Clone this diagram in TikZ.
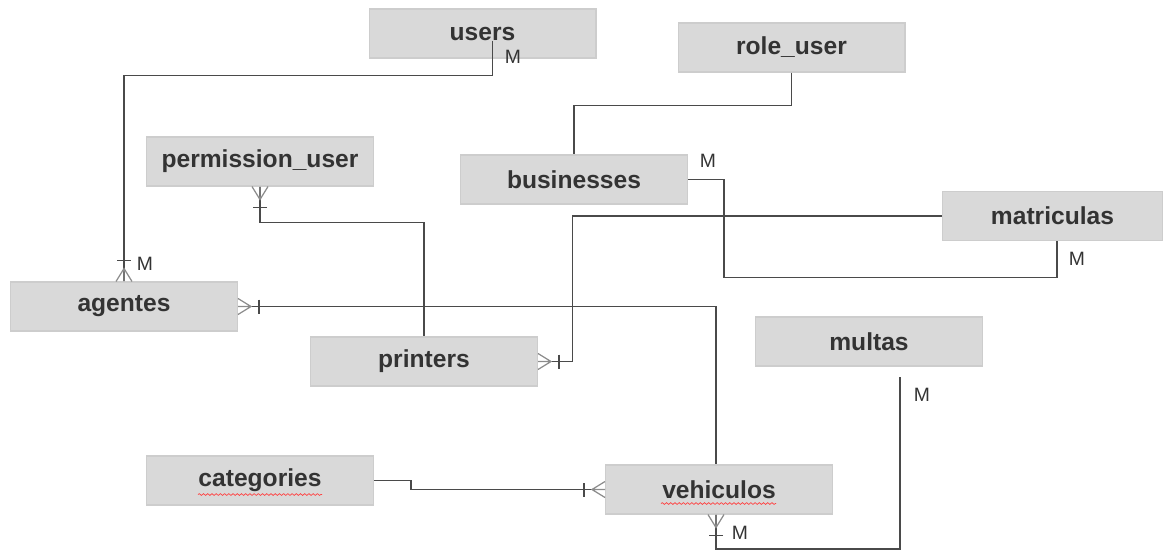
\documentclass[tikz,border=0pt]{standalone}
\usepackage{fontspec}
\setmainfont{Liberation Sans}
\usetikzlibrary{calc,decorations.pathmorphing}
\definecolor{boxgray}{HTML}{D9D9D9}
\definecolor{boxedge}{HTML}{CDCDCD}
\definecolor{inkgray}{HTML}{333333}
\definecolor{linegray}{HTML}{4A4A4A}
\definecolor{footgray}{HTML}{8C8C8C}
\tikzset{ %inner sep = 0mm,
  {entity/.style} ={rectangle, fill=boxgray, draw=boxedge, line width=0.6pt,
                    minimum width=4.54cm, minimum height=0.98cm, inner sep=0,
                    text=inkgray, font=\fontsize{14}{16}\selectfont\bfseries},
  {card/.style} ={text=inkgray, inner sep=0, font=\fontsize{11}{13}\selectfont},
  {rel/.style} ={draw=linegray, line width=1.1pt},
  {foot/.style} ={draw=footgray, line width=0.7pt},
  {footbar/.style} ={draw=linegray, line width=0.8pt},
  {squiggle/.style} ={draw=red!75, line width=0.4pt,
                      decorate, decoration={snake, amplitude=0.5pt, segment length=2.4pt}},
}
% crow's foot at #1, pointing away from the box at angle #2
\newcommand{\crowfoot}[2]{%
  \begin{scope}[shift={(#1)}, rotate=#2]
    \draw[foot] (0,8) -- (13,0) -- (0,-8) (0,0) -- (13,0);
    \draw[footbar] (21,-7) -- (21,7);
  \end{scope}}

\begin{document}
\begin{tikzpicture}[x=0.02cm, y=-0.02cm]
\useasboundingbox (0,0) rectangle (1163,552);

% tables
\node[entity] (users) at (482.5,33.5) {users};
\node[entity] (role_user) at (791.5,47.5) {role\_user};
\node[entity] (permission_user) at (260,161.5) {permission\_user};
\node[entity] (businesses) at (574,179.5) {businesses};
\node[entity, minimum width=4.42cm] (matriculas) at (1052.5,216) {matriculas};
\node[entity] (agentes) at (124,306.5) {agentes};
\node[entity] (printers) at (424,361.5) {printers};
\node[entity] (multas) at (869,341.5) {multas};
\node[entity] (categories) at (260,480.5) {categories};
\node[entity] (vehiculos) at (719,489.5) {vehiculos};

% spell check marks
\draw[squiggle] ($(categories.south)+(-62,-11)$) -- ++(124,0);
\draw[squiggle] ($(vehiculos.south)+(-58,-11)$) -- ++(115,0);

% ends that are not on an anchor
\coordinate (usersout) at ($(users.south)+(10,-18)$);
\coordinate (matin) at ($(matriculas.south)+(4.5,0)$);
\coordinate (vehtop) at ($(vehiculos.north)+(-3,0)$);
\coordinate (vehbot) at ($(vehiculos.south)+(-3,0)$);
\coordinate (multasend) at ($(multas.south)+(31,10)$);

% relations
\draw[rel] (usersout) -- ++(0,35) -| (agentes.north);
\draw[rel] (role_user.south) -- ++(0,33) -| (businesses.north);
\draw[rel] (businesses.east) -- ++(36,0) -- ++(0,98) -| (matin);
\draw[rel] (matriculas.west) -- ++(-369,0) |- (printers.east);
\draw[rel] (permission_user.south) -- ++(0,36) -| (printers.north);
\draw[rel] (agentes.east) -| (vehtop);
\draw[rel] (categories.east) -- ++(37,0) |- (vehiculos.west);
\draw[rel] (vehbot) -- ++(0,34) -| (multasend);

% many-ends
\crowfoot{agentes.north}{90}
\crowfoot{permission_user.south}{270}
\crowfoot{agentes.east}{0}
\crowfoot{printers.east}{0}
\crowfoot{vehiculos.west}{180}
\crowfoot{vehbot}{270}

% cardinalities
\node[card] (m_users) at (513,57) {M};
\node[card] (m_agentes) at (145,264) {M};
\node[card] (m_businesses) at (708,161) {M};
\node[card] (m_matriculas) at (1077,259) {M};
\node[card] (m_vehiculos) at (740,533) {M};
\node[card] (m_multas) at (922,395) {M};
\end{tikzpicture}
\end{document}
